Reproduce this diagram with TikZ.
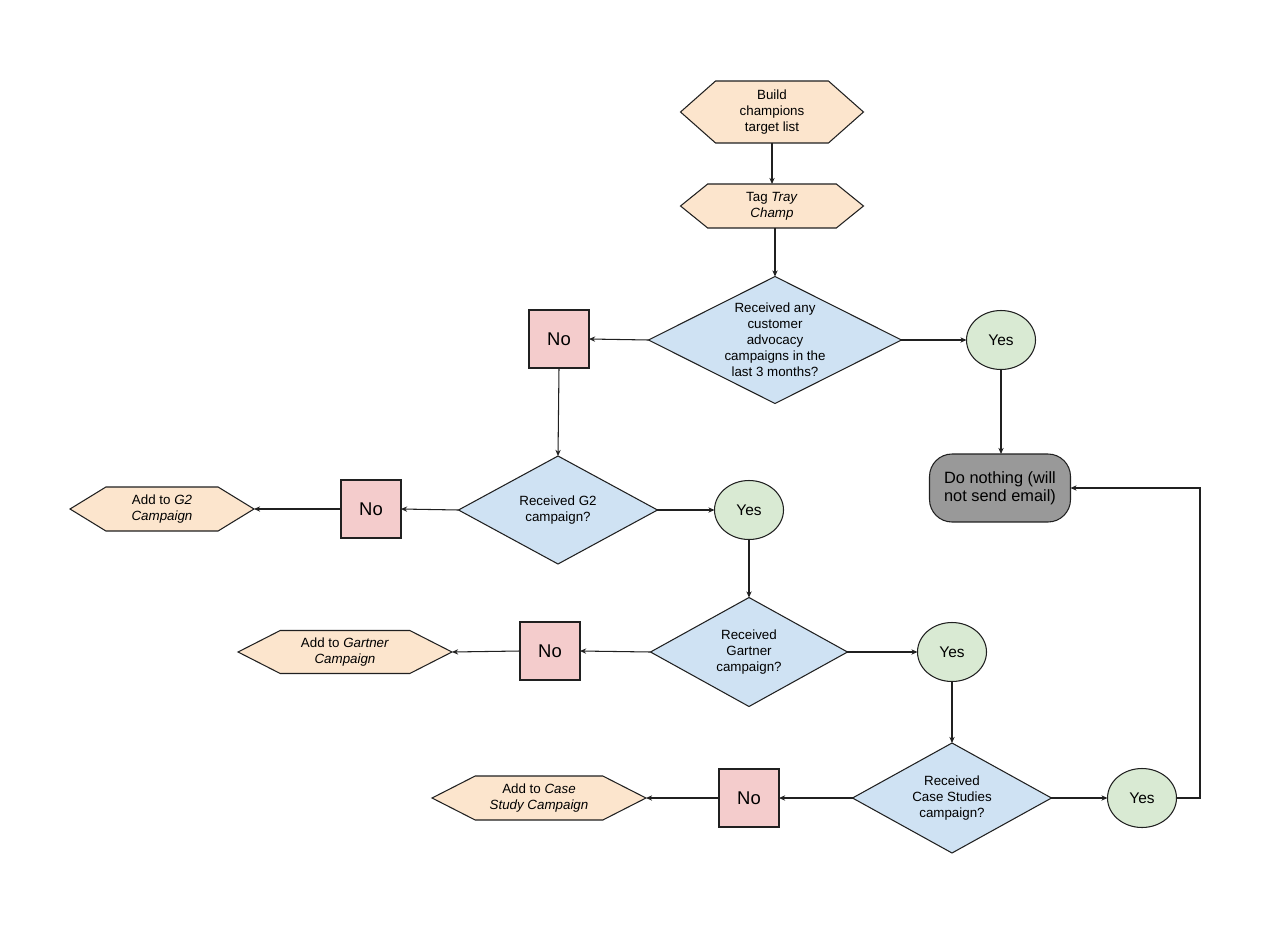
\documentclass[tikz,border=0pt]{standalone}
\usepackage{fontspec}
\setmainfont{Liberation Sans}
\usetikzlibrary{shapes.geometric,shapes.symbols,arrows.meta}
\definecolor{peach}{HTML}{FCE5CD}
\definecolor{lblue}{HTML}{CFE2F3}
\definecolor{lred}{HTML}{F4CCCC}
\definecolor{lgreen}{HTML}{D9EAD3}
\definecolor{gray1}{HTML}{999999}
\definecolor{edge}{HTML}{202020}
\tikzset{
  base/.style={draw=edge, line width=0.6pt, inner sep=0pt, outer sep=0pt, align=center},
  small/.style={font=\fontsize{7.6}{9.1}\selectfont},
  hexbox/.style={base, small, fill=peach, signal, signal to=west and east},
  decision/.style={base, small, fill=lblue, diamond},
  nobox/.style={base, fill=lred, rectangle, minimum width=1.2cm, minimum height=1.16cm, font=\fontsize{10.5}{12}\selectfont},
  yesbox/.style={base, fill=lgreen, ellipse, minimum width=1.38cm, minimum height=1.18cm, font=\fontsize{8.8}{10}\selectfont},
  endbox/.style={base, fill=gray1, rectangle, rounded corners=0.45cm, minimum width=2.82cm, minimum height=1.36cm, font=\fontsize{9.3}{10.2}\selectfont},
  conn/.style={draw=edge, line width=0.6pt, -{Stealth[length=3.5pt,width=3pt]}}
}
\begin{document}
\begin{tikzpicture}[x=0.02cm,y=-0.02cm]
\useasboundingbox[fill=white] (0,0) rectangle (1288,950);
% nodes
\node[hexbox, minimum width=3.66cm, minimum height=1.24cm, signal pointer angle=83] (h1) at (772,112) {Build\\champions\\target list};
\node[hexbox, minimum width=3.66cm, minimum height=0.88cm, signal pointer angle=78] (h2) at (772,206) {Tag \textit{Tray}\\\textit{Champ}};
\node[decision, aspect=2, minimum width=5.06cm, minimum height=2.54cm] (d1) at (775,340) {Received any\\customer\\advocacy\\campaigns in the\\last 3 months?};
\node[nobox] (n1) at (559,339) {No};
\node[yesbox] (y1) at (1001,340) {Yes};
\node[endbox] (dn) at (1000,488) {Do nothing (will\\not send email)};
\node[decision, aspect=1.84, minimum width=3.98cm, minimum height=2.16cm] (d2) at (558,510) {Received G2\\campaign?};
\node[nobox] (n2) at (371,509) {No};
\node[hexbox, minimum width=3.68cm, minimum height=0.88cm, signal pointer angle=63] (a2) at (162,509) {Add to \textit{G2}\\\textit{Campaign}};
\node[yesbox] (y2) at (749,510) {Yes};
\node[decision, aspect=1.8, minimum width=3.94cm, minimum height=2.18cm] (d3) at (749,652) {Received\\Gartner\\campaign?};
\node[nobox] (n3) at (550,651) {No};
\node[hexbox, minimum width=4.28cm, minimum height=0.86cm, signal pointer angle=54] (a3) at (345,652) {Add to \textit{Gartner}\\\textit{Campaign}};
\node[yesbox] (y3) at (952,652) {Yes};
\node[decision, aspect=1.81, minimum width=3.98cm, minimum height=2.2cm] (d4) at (952,798) {Received\\Case Studies\\campaign?};
\node[nobox] (n4) at (749,798) {No};
\node[hexbox, minimum width=4.28cm, minimum height=0.88cm, signal pointer angle=54] (a4) at (539,798) {Add to \textit{Case}\\\textit{Study Campaign}};
\node[yesbox] (y4) at (1142,798) {Yes};
\coordinate (loop) at (1200,798);
% connectors
\draw[conn] (h1.south) -- (h2.north);
\draw[conn] (h2.south -| d1.north) -- (d1.north);
\draw[conn] (d1.west) -- (n1.east);
\draw[conn] (d1.east) -- (y1.west);
\draw[conn] (y1.south) -- (y1.south |- dn.north);
\draw[conn] (n1.south) -- (d2.north);
\draw[conn] (d2.west) -- (n2.east);
\draw[conn] (n2.west) -- (a2.east);
\draw[conn] (d2.east) -- (y2.west);
\draw[conn] (y2.south) -- (y2.south |- d3.north);
\draw[conn] (d3.west) -- (n3.east);
\draw[conn] (n3.west) -- (a3.east);
\draw[conn] (d3.east) -- (y3.west);
\draw[conn] (y3.south) -- (y3.south |- d4.north);
\draw[conn] (d4.west) -- (n4.east);
\draw[conn] (n4.west) -- (a4.east);
\draw[conn] (d4.east) -- (y4.west);
\draw[conn] (y4.east) -- (loop) |- (dn.east);
\end{tikzpicture}
\end{document}
